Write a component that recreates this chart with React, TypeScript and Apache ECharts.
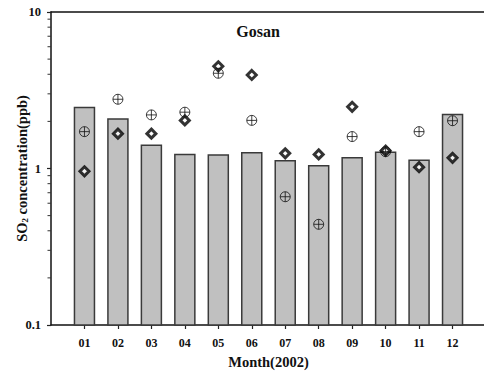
import React, { useEffect, useRef } from "react";
import * as echarts from "echarts";

// Monthly SO2 at Gosan, 2002
const monthLabels = ["01", "02", "03", "04", "05", "06", "07", "08", "09", "10", "11", "12"];
const barValues = [2.45, 2.07, 1.41, 1.23, 1.22, 1.26, 1.12, 1.04, 1.17, 1.27, 1.13, 2.21];
const diamondValues = [0.96, 1.67, 1.67, 2.03, 4.5, 3.96, 1.25, 1.23, 2.48, 1.3, 1.02, 1.17];
const crossValues = [1.72, 2.77, 2.2, 2.29, 4.06, 2.03, 0.66, 0.44, 1.6, 1.28, 1.72, 2.02];
const yMinorTicks = [0.2, 0.3, 0.4, 0.5, 0.6, 0.7, 0.8, 0.9, 2, 3, 4, 5, 6, 7, 8, 9];
const Y_MIN = 0.1;
const Y_MAX = 10;

// the month axis has an empty slot at each end so months sit at 1..12
const xCategories = ["", ...monthLabels, ""];

const FONT = "'Liberation Serif', 'Times New Roman', serif";
const CIRCLE_PLUS =
  "path://M10,0 A10,10 0 1,1 10,20 A10,10 0 1,1 10,0 Z M0,10 L20,10 M10,0 L10,20";

const titleGraphic = {
  type: "text",
  x: 258,
  y: 31,
  style: {
    text: "Gosan",
    textAlign: "center",
    textVerticalAlign: "middle",
    fontFamily: FONT,
    fontWeight: "bold",
    fontSize: 16,
    fill: "#111",
  },
};

export default function App() {
  const ref = useRef<HTMLDivElement>(null);

  useEffect(() => {
    if (!ref.current) return;
    const chart = echarts.init(ref.current, null, { renderer: "svg" });

    chart.setOption({
      animation: false,
      backgroundColor: "#fff",
      graphic: [titleGraphic],
      grid: { left: 51, top: 12, width: 435, bottom: 46, outerBoundsMode: "none" },
      xAxis: [
        {
          type: "category",
          data: xCategories,
          boundaryGap: false,
          axisLine: { lineStyle: { color: "#111", width: 1.5 } },
          axisTick: {
            show: true,
            length: 4,
            lineStyle: { color: "#222", width: 1.2 },
            interval: (i: number) => i >= 1 && i <= monthLabels.length,
          },
          axisLabel: {
            interval: 0,
            fontFamily: FONT,
            fontWeight: "bold",
            fontSize: 12,
            color: "#111",
            margin: 12,
          },
          name: "Month(2002)",
          nameLocation: "middle",
          nameGap: 29,
          nameMoveOverlap: false,
          nameTextStyle: { fontFamily: FONT, fontWeight: "bold", fontSize: 14.5, color: "#111" },
        },
        {
          type: "category",
          data: xCategories,
          boundaryGap: false,
          position: "top",
          axisLine: { show: true, lineStyle: { color: "#111", width: 1.5 } },
          axisTick: { show: false },
          axisLabel: { show: false },
        },
      ],
      yAxis: [
        {
          type: "log",
          logBase: 10,
          min: Y_MIN,
          max: Y_MAX,
          splitLine: { show: false },
          axisLine: { show: true, lineStyle: { color: "#111", width: 1.5 } },
          axisTick: { show: true, length: 4, lineStyle: { color: "#222", width: 1.2 } },
          axisLabel: {
            formatter: (v: number) => String(v),
            fontFamily: FONT,
            fontWeight: "bold",
            fontSize: 12.5,
            color: "#111",
            margin: 10,
          },
          name: "SO{sub|2} concentration(ppb)",
          nameLocation: "middle",
          nameGap: 22,
          nameMoveOverlap: false,
          nameRotate: 90,
          nameTextStyle: {
            fontFamily: FONT,
            fontWeight: "bold",
            fontSize: 14.5,
            color: "#111",
            rich: {
              sub: {
                fontFamily: FONT,
                fontWeight: "bold",
                fontSize: 9,
                color: "#111",
                verticalAlign: "bottom",
                padding: [6, 0, 0, 0],
              },
            },
          },
        },
      ],
      series: [
        {
          // bars rise from the bottom of the log axis
          type: "custom",
          data: barValues.map((v, i) => [i + 1, v]),
          renderItem: (_params: any, api: any) => {
            const x = api.value(0);
            const top = api.coord([x, api.value(1)]);
            const base = api.coord([x, Y_MIN]);
            const w = 20;
            return {
              type: "rect",
              shape: { x: top[0] - w / 2, y: top[1], width: w, height: base[1] - top[1] },
              style: { fill: "#c0c0c0", stroke: "#3a3a3a", lineWidth: 1.5 },
            };
          },
          z: 2,
        },
        {
          type: "scatter",
          data: diamondValues.map((v, i) => [i + 1, v]),
          symbol: "diamond",
          symbolSize: 9,
          itemStyle: { color: "#fff", borderColor: "#000", borderWidth: 3 },
          z: 3,
        },
        {
          type: "scatter",
          data: crossValues.map((v, i) => [i + 1, v]),
          symbol: CIRCLE_PLUS,
          symbolSize: 10,
          itemStyle: { color: "rgba(255,255,255,0)", borderColor: "#111", borderWidth: 1 },
          z: 4,
        },
      ],
    });

    // minor ticks at 2..9 of each decade, placed through the axis scale
    const axisX = chart.convertToPixel({ xAxisIndex: 0 }, 0) as number;
    const minorTicks = yMinorTicks.map((v) => {
      const y = chart.convertToPixel({ yAxisIndex: 0 }, v) as number;
      return {
        type: "line",
        shape: { x1: axisX - 3.5, y1: y, x2: axisX, y2: y },
        style: { stroke: "#333", lineWidth: 1 },
        z: 10,
      };
    });
    chart.setOption({ graphic: [titleGraphic, ...minorTicks] });

    return () => chart.dispose();
  }, []);

  return (
    <div
      ref={ref}
      style={{ position: "absolute", left: 0, top: 0, width: 484, height: 371 }}
    />
  );
}
